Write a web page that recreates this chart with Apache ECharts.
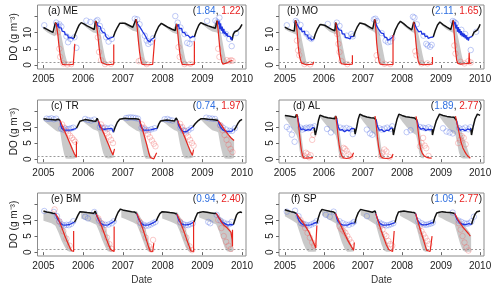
<!DOCTYPE html>
<html><head><meta charset="utf-8">
<script src="https://cdn.jsdelivr.net/npm/echarts@6/dist/echarts.min.js"></script>
<style>html,body{margin:0;padding:0;background:#fff}#c{width:500px;height:289px}</style>
</head><body><div id="c"></div>
<script>
// ---------- tick labels ----------
const yearTicks = [2005, 2006, 2007, 2008, 2009, 2010];
const doTicks = [0, 5, 10, 15];
const doLabels = [0, 5, 10];
const panelNames = ['(a) ME', '(b) MO', '(c) TR', '(d) AL', '(e) BM', '(f) SP'];
const rmseSurface = [1.84, 2.11, 0.74, 1.89, 0.94, 1.09];
const rmseBottom = [1.22, 1.65, 1.97, 2.77, 2.40, 2.77];

// ---------- (a) ME ----------
const meBlack = [
 [[2005.00,11.5],[2005.08,11.0],[2005.16,10.5],[2005.24,10.0],[2005.28,9.9],[2005.30,13.0],[2005.33,12.6]],
 [[2005.77,8.3],[2005.80,9.5],[2005.85,11.0],[2005.90,12.3],[2005.95,13.0],[2006.02,12.6],[2006.10,12.0],[2006.20,11.4],[2006.28,10.9],[2006.31,13.5],[2006.35,12.8]],
 [[2006.76,8.6],[2006.80,10.0],[2006.86,11.5],[2006.92,12.8],[2006.97,13.4],[2007.05,12.8],[2007.15,12.2],[2007.25,11.6],[2007.30,11.4],[2007.33,14.0],[2007.36,12.8]],
 [[2007.78,8.3],[2007.83,10.0],[2007.90,11.8],[2007.97,12.8],[2008.05,12.2],[2008.15,11.5],[2008.25,10.9],[2008.32,10.6],[2008.35,12.6],[2008.38,11.8]],
 [[2008.80,8.6],[2008.85,10.5],[2008.91,12.2],[2008.96,13.0],[2009.05,12.5],[2009.15,12.0],[2009.25,11.6],[2009.33,11.3],[2009.37,13.6],[2009.40,12.5]],
 [[2009.75,7.6],[2009.78,9.5],[2009.82,10.2],[2009.88,10.5],[2009.94,11.2],[2010.00,12.5]]
];
const meBlue = [
 [[2005.33,12.6],[2005.35,11.8],[2005.37,12.8],[2005.39,11.5],[2005.41,12.0],[2005.43,11.0],[2005.45,11.4],[2005.47,10.4],[2005.49,10.8],[2005.51,9.8],[2005.53,10.2],[2005.55,9.3],[2005.57,9.7],[2005.59,8.8],[2005.61,9.2],[2005.63,8.3],[2005.65,8.6],[2005.67,7.9],[2005.69,8.4],[2005.71,8.0],[2005.73,8.7],[2005.75,8.1],[2005.77,8.3]],
 [[2006.35,12.8],[2006.37,12.0],[2006.39,12.6],[2006.41,11.4],[2006.43,11.8],[2006.45,10.8],[2006.47,11.0],[2006.49,10.1],[2006.51,10.4],[2006.53,9.5],[2006.55,9.8],[2006.57,8.8],[2006.59,9.0],[2006.61,8.2],[2006.63,8.0],[2006.65,7.6],[2006.67,8.1],[2006.69,8.3],[2006.71,8.0],[2006.73,8.6],[2006.76,8.6]],
 [[2007.36,12.8],[2007.38,12.2],[2007.40,13.0],[2007.42,11.8],[2007.44,12.0],[2007.46,11.0],[2007.48,11.2],[2007.50,10.2],[2007.52,10.4],[2007.54,9.5],[2007.56,9.0],[2007.58,8.6],[2007.60,8.0],[2007.62,7.6],[2007.64,7.2],[2007.66,7.5],[2007.68,7.1],[2007.70,7.6],[2007.72,7.9],[2007.74,8.3],[2007.76,8.0],[2007.78,8.3]],
 [[2008.38,11.8],[2008.40,12.5],[2008.42,11.2],[2008.44,11.8],[2008.46,10.8],[2008.48,11.2],[2008.50,10.0],[2008.52,10.5],[2008.54,9.6],[2008.56,9.9],[2008.58,9.2],[2008.60,9.5],[2008.62,8.8],[2008.64,9.1],[2008.66,8.5],[2008.68,8.8],[2008.70,8.3],[2008.72,8.7],[2008.74,8.4],[2008.76,8.8],[2008.78,8.5],[2008.80,8.6]],
 [[2009.40,12.5],[2009.42,13.5],[2009.44,11.0],[2009.46,12.8],[2009.48,10.5],[2009.50,11.8],[2009.52,9.8],[2009.54,11.0],[2009.56,9.5],[2009.58,10.2],[2009.60,9.0],[2009.62,9.8],[2009.64,8.8],[2009.66,9.3],[2009.68,8.3],[2009.70,8.8],[2009.72,7.8],[2009.74,8.5],[2009.75,7.6]]
];
const meRed = [
 [[2005.30,13.0],[2005.33,12.0],[2005.36,9.5],[2005.39,6.0],[2005.42,3.0],[2005.45,1.0],[2005.48,0.2],[2005.55,0.1],[2005.65,0.1],[2005.75,0.2],[2005.79,0.3],[2005.79,6.5]],
 [[2006.31,13.5],[2006.34,12.0],[2006.37,9.0],[2006.40,5.5],[2006.43,2.5],[2006.46,0.8],[2006.49,0.2],[2006.60,0.1],[2006.70,0.2],[2006.77,0.3],[2006.77,6.3]],
 [[2007.33,14.0],[2007.36,11.5],[2007.39,7.5],[2007.42,4.0],[2007.45,1.5],[2007.48,0.3],[2007.55,0.1],[2007.65,0.1],[2007.75,0.2],[2007.80,0.3],[2007.80,7.8]],
 [[2008.35,12.6],[2008.38,10.0],[2008.41,6.0],[2008.44,3.0],[2008.47,1.0],[2008.50,0.2],[2008.60,0.1],[2008.70,0.1],[2008.80,0.3],[2008.80,7.3]],
 [[2009.37,13.6],[2009.40,10.5],[2009.43,6.5],[2009.46,3.0],[2009.49,1.0],[2009.52,0.3],[2009.58,0.5],[2009.64,0.8],[2009.70,1.2],[2009.76,1.4]]
];
const meBand = [
 [[2005.00,11.0,11.6],[2005.10,10.0,11.0],[2005.20,9.3,10.4],[2005.28,8.8,9.9],[2005.30,9.0,13.0],[2005.33,9.5,12.6],[2005.36,9.5,12.0],[2005.40,4.5,11.5],[2005.45,1.0,9.0],[2005.50,0.2,6.0],[2005.55,0.1,3.0],[2005.60,0.1,0.8]],
 [[2005.95,12.8,13.0],[2006.05,11.8,12.5],[2006.15,10.8,11.8],[2006.25,10.0,11.1],[2006.31,9.8,13.5],[2006.35,9.5,12.8],[2006.40,5.5,11.5],[2006.45,1.0,9.0],[2006.50,0.2,5.5],[2006.55,0.1,2.5],[2006.60,0.1,0.5]],
 [[2006.97,13.2,13.4],[2007.05,12.3,12.8],[2007.15,11.3,12.2],[2007.25,10.5,11.6],[2007.33,10.3,14.0],[2007.36,10.0,12.8],[2007.40,6.5,11.8],[2007.45,1.5,9.0],[2007.50,0.2,5.0],[2007.55,0.1,2.0],[2007.60,0.1,0.4]],
 [[2007.97,12.6,12.8],[2008.05,11.8,12.2],[2008.15,10.8,11.5],[2008.25,10.0,10.9],[2008.35,9.5,12.6],[2008.38,9.5,11.8],[2008.42,5.0,11.0],[2008.47,1.0,8.5],[2008.52,0.2,5.0],[2008.57,0.1,2.0],[2008.62,0.1,0.4]],
 [[2008.96,12.8,13.0],[2009.05,12.0,12.5],[2009.15,11.0,12.0],[2009.25,10.3,11.6],[2009.37,10.0,13.6],[2009.40,9.5,12.5],[2009.44,5.0,11.5],[2009.49,1.0,8.5],[2009.54,0.3,5.0],[2009.59,0.3,2.0],[2009.64,0.5,0.9]]
];
const meObsS = [[2005.02,12.2],[2005.32,13.0],[2005.36,12.2],[2005.40,12.5],[2005.45,11.8],[2005.58,8.8],[2005.62,7.0],[2005.68,8.0],[2005.78,8.5],[2005.83,5.3],[2006.08,13.6],[2006.18,13.2],[2006.33,13.4],[2006.36,13.8],[2006.42,12.0],[2006.48,10.5],[2006.58,8.5],[2006.64,7.2],[2006.72,8.0],[2007.30,14.2],[2007.36,14.0],[2007.42,12.5],[2007.55,9.0],[2007.60,7.5],[2007.64,6.5],[2007.70,7.0],[2007.76,8.2],[2008.32,15.0],[2008.38,13.0],[2008.45,11.5],[2008.55,9.5],[2008.62,6.8],[2008.68,6.5],[2008.75,8.0],[2009.12,13.5],[2009.33,13.6],[2009.38,13.2],[2009.43,14.5],[2009.50,10.5],[2009.60,9.5],[2009.68,8.0],[2009.74,5.8],[2009.85,9.8]];
const meObsB = [[2005.36,10.0],[2005.40,5.0],[2005.42,2.5],[2005.50,0.5],[2005.60,0.2],[2005.70,0.3],[2006.37,8.5],[2006.40,4.0],[2006.45,1.5],[2006.55,0.3],[2006.70,0.4],[2007.40,1.2],[2007.45,1.5],[2007.60,0.3],[2008.40,5.5],[2008.43,2.5],[2008.55,0.3],[2008.70,0.4],[2009.40,5.0],[2009.43,2.5],[2009.62,1.5],[2009.68,1.2],[2009.72,1.5],[2009.76,1.3]];

// ---------- (b) MO ----------
const moBlack = [
 [[2005.00,11.6],[2005.08,11.1],[2005.16,10.7],[2005.24,10.4],[2005.27,13.7],[2005.30,12.8]],
 [[2005.74,8.0],[2005.78,9.5],[2005.84,11.2],[2005.90,12.4],[2005.93,12.8],[2006.02,12.2],[2006.12,11.5],[2006.22,10.8],[2006.28,10.5],[2006.30,13.0],[2006.33,12.2]],
 [[2006.76,8.7],[2006.80,10.2],[2006.86,11.8],[2006.92,12.9],[2006.96,13.2],[2007.05,12.5],[2007.15,11.8],[2007.25,11.1],[2007.28,11.0],[2007.30,14.0],[2007.33,12.8]],
 [[2007.78,9.0],[2007.83,10.8],[2007.90,12.5],[2007.96,13.4],[2008.05,12.6],[2008.15,11.6],[2008.25,10.8],[2008.28,10.7],[2008.30,13.2],[2008.33,12.6]],
 [[2008.80,8.6],[2008.85,10.5],[2008.91,12.3],[2008.97,13.2],[2009.05,12.4],[2009.15,11.6],[2009.25,10.9],[2009.29,10.8],[2009.31,13.7],[2009.34,12.5]],
 [[2009.80,8.8],[2009.84,10.0],[2009.88,10.3],[2009.93,10.8],[2009.97,11.6],[2010.00,12.5]]
];
const moBlue = [
 [[2005.30,12.8],[2005.32,12.2],[2005.34,13.0],[2005.36,11.5],[2005.38,12.0],[2005.40,10.8],[2005.42,11.5],[2005.44,10.2],[2005.46,10.8],[2005.48,9.8],[2005.50,10.4],[2005.52,9.3],[2005.54,9.8],[2005.56,8.7],[2005.58,9.2],[2005.60,8.2],[2005.62,8.6],[2005.64,7.8],[2005.66,8.3],[2005.68,7.6],[2005.70,8.1],[2005.72,7.7],[2005.74,8.0]],
 [[2006.33,12.2],[2006.35,11.5],[2006.37,12.0],[2006.39,10.8],[2006.41,11.2],[2006.43,10.2],[2006.45,10.6],[2006.47,9.6],[2006.49,10.0],[2006.51,9.2],[2006.53,9.5],[2006.55,8.5],[2006.57,8.8],[2006.59,7.9],[2006.61,8.3],[2006.63,7.8],[2006.65,8.5],[2006.67,8.0],[2006.69,8.8],[2006.71,8.3],[2006.73,9.0],[2006.76,8.7]],
 [[2007.33,12.8],[2007.35,12.0],[2007.37,12.6],[2007.39,11.2],[2007.41,11.6],[2007.43,10.5],[2007.45,10.9],[2007.47,9.8],[2007.49,10.2],[2007.51,9.2],[2007.53,9.6],[2007.55,8.6],[2007.57,9.0],[2007.59,8.0],[2007.61,8.4],[2007.63,7.6],[2007.65,8.0],[2007.67,7.4],[2007.69,7.9],[2007.71,8.3],[2007.73,8.0],[2007.76,8.6],[2007.78,9.0]],
 [[2008.33,12.6],[2008.35,11.8],[2008.37,12.4],[2008.39,10.9],[2008.41,11.4],[2008.43,10.2],[2008.45,10.8],[2008.47,9.8],[2008.49,10.4],[2008.51,9.5],[2008.53,10.0],[2008.55,9.2],[2008.57,9.6],[2008.59,8.8],[2008.61,9.2],[2008.63,8.5],[2008.65,8.9],[2008.67,8.2],[2008.69,8.6],[2008.71,8.0],[2008.73,8.5],[2008.76,8.3],[2008.80,8.6]],
 [[2009.34,12.5],[2009.36,13.2],[2009.38,11.2],[2009.40,12.4],[2009.42,10.2],[2009.44,11.6],[2009.46,9.8],[2009.48,11.0],[2009.50,9.2],[2009.52,10.4],[2009.54,8.8],[2009.56,9.8],[2009.58,8.6],[2009.60,9.6],[2009.62,8.2],[2009.64,9.2],[2009.66,7.8],[2009.68,8.6],[2009.70,7.5],[2009.72,8.4],[2009.74,8.0],[2009.77,8.8],[2009.80,8.8]]
];
const moRed = [
 [[2005.27,13.7],[2005.30,12.0],[2005.32,9.5],[2005.34,6.0],[2005.37,3.0],[2005.40,1.5],[2005.43,0.6],[2005.47,0.2],[2005.55,0.1],[2005.65,0.2],[2005.72,0.3],[2005.74,1.0]],
 [[2006.30,13.0],[2006.32,12.0],[2006.34,9.0],[2006.36,6.0],[2006.39,3.0],[2006.42,1.2],[2006.45,0.4],[2006.55,0.2],[2006.65,0.2],[2006.73,0.3],[2006.73,3.0]],
 [[2007.30,14.0],[2007.33,11.0],[2007.35,7.0],[2007.38,3.5],[2007.41,1.2],[2007.44,0.3],[2007.55,0.1],[2007.65,0.1],[2007.77,0.2],[2007.77,9.2]],
 [[2008.30,13.2],[2008.33,10.5],[2008.36,6.5],[2008.39,3.0],[2008.42,1.0],[2008.45,0.3],[2008.55,0.1],[2008.65,0.2],[2008.78,0.3],[2008.78,2.5]],
 [[2009.31,13.7],[2009.34,9.0],[2009.37,4.5],[2009.40,1.5],[2009.43,0.5],[2009.50,0.3],[2009.60,0.4],[2009.71,0.5],[2009.72,3.8],[2009.73,0.6],[2009.78,0.5]]
];
const moBand = [
 [[2005.00,11.0,11.6],[2005.10,10.3,11.0],[2005.20,9.8,10.6],[2005.25,9.5,10.4],[2005.27,9.5,13.7],[2005.30,9.0,12.8],[2005.35,6.0,12.0],[2005.40,1.5,10.0],[2005.45,0.3,7.0],[2005.50,0.1,4.0],[2005.55,0.1,1.0],[2005.58,0.1,0.2]],
 [[2005.93,12.5,12.8],[2006.05,11.2,12.1],[2006.15,10.2,11.3],[2006.28,9.5,10.5],[2006.30,9.5,13.0],[2006.33,9.0,12.2],[2006.38,4.0,11.5],[2006.43,1.0,9.0],[2006.48,0.3,6.0],[2006.53,0.2,3.0],[2006.58,0.2,0.4]],
 [[2006.96,13.0,13.2],[2007.05,12.0,12.5],[2007.15,11.0,11.8],[2007.28,10.2,11.0],[2007.30,10.0,14.0],[2007.33,9.5,12.8],[2007.38,3.5,12.0],[2007.43,0.5,9.5],[2007.48,0.1,6.5],[2007.53,0.1,3.5],[2007.58,0.1,0.5]],
 [[2007.96,13.2,13.4],[2008.05,12.0,12.6],[2008.15,11.0,11.6],[2008.28,10.0,10.7],[2008.30,10.0,13.2],[2008.33,9.5,12.6],[2008.38,4.0,11.5],[2008.43,0.8,9.0],[2008.48,0.2,6.0],[2008.53,0.1,3.0],[2008.58,0.2,0.5]],
 [[2008.97,13.0,13.2],[2009.05,11.8,12.4],[2009.15,10.8,11.6],[2009.29,10.0,10.8],[2009.31,10.0,13.7],[2009.34,9.0,12.5],[2009.38,3.0,11.5],[2009.43,0.5,9.0],[2009.48,0.3,6.0],[2009.53,0.3,3.0],[2009.58,0.3,0.5]]
];
const moObsS = [[2005.05,12.2],[2005.28,13.5],[2005.31,13.0],[2005.40,12.3],[2005.55,9.6],[2005.62,8.5],[2005.68,8.0],[2006.10,12.6],[2006.33,13.0],[2006.40,12.0],[2006.58,9.0],[2006.70,9.5],[2006.74,8.8],[2007.28,14.0],[2007.32,14.2],[2007.36,13.5],[2007.48,9.8],[2007.58,7.5],[2007.64,7.0],[2007.70,7.2],[2007.75,8.2],[2008.28,14.8],[2008.32,14.5],[2008.38,12.5],[2008.55,9.0],[2008.62,6.5],[2008.66,6.0],[2008.72,5.6],[2008.76,6.2],[2009.30,13.5],[2009.34,13.2],[2009.38,12.8],[2009.52,10.8],[2009.62,9.5],[2009.76,4.6],[2009.90,10.2]];
const moObsB = [[2005.31,7.5],[2005.34,4.5],[2005.37,3.0],[2005.50,0.3],[2005.65,0.2],[2006.34,9.5],[2006.37,6.5],[2006.40,4.0],[2006.45,1.2],[2006.60,0.3],[2007.35,3.0],[2007.38,1.5],[2007.55,0.4],[2007.70,0.3],[2008.34,4.2],[2008.37,3.0],[2008.50,0.5],[2008.65,0.5],[2009.34,6.0],[2009.37,3.5],[2009.50,1.0],[2009.60,0.5],[2009.70,1.2],[2009.76,0.8]];

// ---------- (c) TR ----------
const trBlack = [
 [[2005.00,12.6],[2005.10,12.4],[2005.20,12.3],[2005.30,12.2],[2005.35,12.8],[2005.38,12.4],[2005.42,12.0]],
 [[2005.83,9.6],[2005.87,10.6],[2005.92,11.8],[2005.97,12.4],[2006.05,12.3],[2006.15,12.1],[2006.25,11.9],[2006.32,11.8],[2006.35,12.7],[2006.38,12.0]],
 [[2006.76,8.4],[2006.80,9.8],[2006.86,11.5],[2006.92,12.4],[2006.97,12.8],[2007.05,12.7],[2007.15,12.6],[2007.22,12.6],[2007.25,12.9],[2007.32,12.6],[2007.40,12.4],[2007.42,12.2]],
 [[2007.86,9.5],[2007.90,10.8],[2007.95,11.9],[2007.98,12.3],[2008.10,12.2],[2008.20,12.0],[2008.30,11.9],[2008.34,12.8],[2008.38,12.0]],
 [[2008.76,10.0],[2008.82,11.0],[2008.90,12.0],[2008.97,12.6],[2009.05,12.6],[2009.15,12.4],[2009.25,12.3],[2009.33,12.2],[2009.37,12.8],[2009.40,12.0]],
 [[2009.80,9.0],[2009.85,10.0],[2009.90,11.2],[2009.95,12.0],[2010.00,12.4]]
];
const trBlue = [
 [[2005.42,12.0],[2005.44,10.5],[2005.46,9.6],[2005.49,9.2],[2005.52,9.0],[2005.55,9.3],[2005.58,9.0],[2005.61,9.2],[2005.64,9.0],[2005.67,9.3],[2005.70,9.1],[2005.73,9.4],[2005.76,9.3],[2005.79,9.6],[2005.81,9.2],[2005.83,9.6]],
 [[2006.38,12.0],[2006.40,10.8],[2006.42,10.0],[2006.45,9.7],[2006.48,9.4],[2006.51,9.6],[2006.54,9.3],[2006.57,9.6],[2006.60,9.4],[2006.63,9.7],[2006.66,9.5],[2006.69,9.8],[2006.72,9.6],[2006.74,9.0],[2006.76,8.4]],
 [[2007.42,12.2],[2007.44,11.0],[2007.46,10.0],[2007.49,9.4],[2007.52,9.0],[2007.55,8.8],[2007.58,9.0],[2007.61,8.7],[2007.64,9.0],[2007.67,8.8],[2007.70,9.1],[2007.73,9.0],[2007.76,9.3],[2007.79,9.1],[2007.82,9.5],[2007.86,9.5]],
 [[2008.38,12.0],[2008.40,10.6],[2008.43,9.8],[2008.46,9.2],[2008.49,8.8],[2008.52,8.6],[2008.55,8.5],[2008.58,8.7],[2008.61,8.6],[2008.64,8.9],[2008.67,9.2],[2008.70,9.4],[2008.73,9.8],[2008.76,10.0]],
 [[2009.40,12.0],[2009.42,11.0],[2009.45,10.2],[2009.48,9.6],[2009.51,9.2],[2009.54,9.0],[2009.57,8.8],[2009.60,8.7],[2009.63,8.6],[2009.66,8.5],[2009.69,8.6],[2009.72,8.5],[2009.75,8.7],[2009.78,9.3],[2009.80,9.0]]
];
const trRed = [
 [[2005.42,12.0],[2005.47,10.5],[2005.53,8.8],[2005.60,6.8],[2005.67,4.8],[2005.73,3.0],[2005.78,1.6],[2005.83,0.6],[2005.83,5.5]],
 [[2006.38,12.0],[2006.44,10.2],[2006.50,8.5],[2006.57,6.5],[2006.64,4.5],[2006.70,2.6],[2006.75,1.3],[2006.79,0.7],[2006.79,3.2]],
 [[2007.42,12.2],[2007.48,9.8],[2007.54,7.2],[2007.60,4.5],[2007.65,2.0],[2007.69,0.5],[2007.73,0.1],[2007.78,0.1],[2007.81,0.3],[2007.85,2.0]],
 [[2008.38,12.0],[2008.44,10.2],[2008.50,8.5],[2008.57,6.4],[2008.64,4.2],[2008.70,2.4],[2008.75,1.2],[2008.78,0.6],[2008.78,3.0]],
 [[2009.40,12.0],[2009.47,10.8],[2009.54,9.5],[2009.61,8.3],[2009.68,7.2],[2009.74,6.4],[2009.80,5.8]]
];
const trBand = [
 [[2005.00,12.0,12.6],[2005.10,11.0,12.4],[2005.20,10.0,12.3],[2005.30,9.0,12.2],[2005.35,8.6,12.8],[2005.42,8.5,12.0],[2005.47,4.5,10.8],[2005.52,1.5,9.2],[2005.56,0.2,8.0],[2005.62,0.1,6.5],[2005.70,0.1,4.5],[2005.78,0.2,2.0],[2005.83,0.5,0.8]],
 [[2005.97,12.0,12.4],[2006.05,11.2,12.3],[2006.15,10.2,12.1],[2006.25,9.3,11.9],[2006.35,8.8,12.7],[2006.38,8.5,12.0],[2006.45,4.5,10.5],[2006.50,2.0,9.0],[2006.55,0.5,7.5],[2006.62,0.2,5.5],[2006.70,0.3,3.0],[2006.76,0.5,1.5],[2006.79,0.6,0.8]],
 [[2006.97,12.4,12.8],[2007.05,11.6,12.7],[2007.15,10.5,12.6],[2007.25,9.6,12.9],[2007.35,8.8,12.6],[2007.42,8.5,12.2],[2007.48,4.0,10.5],[2007.53,1.0,8.5],[2007.58,0.1,6.0],[2007.64,0.1,3.5],[2007.70,0.1,1.0],[2007.74,0.1,0.2]],
 [[2007.98,12.0,12.3],[2008.08,11.0,12.2],[2008.18,10.0,12.0],[2008.30,9.0,11.9],[2008.34,8.8,12.8],[2008.38,8.5,12.0],[2008.44,4.5,10.5],[2008.50,1.5,9.0],[2008.55,0.3,7.5],[2008.62,0.2,5.5],[2008.70,0.3,3.0],[2008.76,0.5,1.4],[2008.78,0.6,0.7]],
 [[2008.97,12.2,12.6],[2009.05,11.2,12.6],[2009.15,10.0,12.4],[2009.25,9.0,12.3],[2009.37,8.5,12.8],[2009.40,8.3,12.0],[2009.46,4.0,11.0],[2009.52,1.0,10.0],[2009.57,0.2,9.2],[2009.65,0.1,8.0],[2009.72,0.1,7.0],[2009.78,0.3,6.0],[2009.80,0.5,5.8]]
];
const trObsS = [[2005.08,12.6],[2005.14,12.5],[2005.20,12.7],[2005.26,12.4],[2005.32,12.6],[2005.45,9.5],[2005.50,9.2],[2005.55,9.5],[2005.60,9.3],[2005.65,9.4],[2005.70,9.6],[2005.75,9.8],[2006.05,12.5],[2006.12,12.2],[2006.20,12.0],[2006.28,12.3],[2006.42,10.0],[2006.48,9.6],[2006.55,9.8],[2006.62,9.5],[2006.70,9.8],[2007.08,12.8],[2007.14,12.9],[2007.20,13.0],[2007.26,12.9],[2007.32,12.8],[2007.38,12.6],[2007.47,9.8],[2007.52,9.3],[2007.58,9.2],[2007.65,9.0],[2007.72,9.3],[2007.80,9.6],[2008.05,12.4],[2008.12,12.5],[2008.18,12.2],[2008.25,12.0],[2008.45,9.8],[2008.52,8.8],[2008.58,8.7],[2008.65,9.0],[2008.72,9.6],[2009.10,12.9],[2009.18,12.7],[2009.25,12.6],[2009.32,12.5],[2009.45,10.5],[2009.52,9.8],[2009.60,9.2],[2009.68,8.8],[2009.75,8.8],[2009.82,9.6]];
const trObsB = [[2005.47,10.8],[2005.52,9.8],[2005.57,8.8],[2005.62,8.0],[2005.67,7.3],[2005.72,6.6],[2005.76,6.0],[2005.80,5.4],[2006.45,10.8],[2006.50,9.8],[2006.55,8.8],[2006.60,8.0],[2006.65,7.0],[2006.70,6.0],[2006.75,5.0],[2007.48,10.8],[2007.53,9.8],[2007.58,8.8],[2007.63,7.8],[2007.68,6.8],[2007.73,5.8],[2007.78,4.8],[2007.82,4.0],[2008.44,11.0],[2008.49,10.0],[2008.54,9.0],[2008.59,8.0],[2008.64,7.0],[2008.69,6.0],[2008.74,5.0],[2008.78,4.2],[2009.46,10.5],[2009.51,9.0],[2009.56,7.5],[2009.61,6.0],[2009.66,4.5],[2009.71,3.2],[2009.76,2.2]];

// ---------- (d) AL ----------
const alBlack = [
 [[2005.00,13.6],[2005.10,13.4],[2005.20,13.2],[2005.27,13.0],[2005.30,14.0],[2005.33,13.0]],
 [[2005.75,9.8],[2005.78,7.5],[2005.82,9.5],[2005.86,12.0],[2005.90,13.7],[2006.00,13.2],[2006.10,12.9],[2006.20,12.7],[2006.28,12.6],[2006.30,13.4],[2006.33,12.5]],
 [[2006.78,9.5],[2006.80,7.8],[2006.84,10.0],[2006.88,12.5],[2006.92,14.0],[2007.00,13.5],[2007.10,13.1],[2007.20,12.9],[2007.28,12.8],[2007.31,13.4],[2007.34,12.2]],
 [[2007.76,9.6],[2007.78,7.5],[2007.82,9.8],[2007.87,12.3],[2007.92,14.0],[2008.00,13.6],[2008.10,13.2],[2008.20,13.0],[2008.32,12.8],[2008.36,13.3],[2008.39,12.0]],
 [[2008.77,9.4],[2008.78,7.5],[2008.82,9.5],[2008.88,12.0],[2008.96,14.0],[2009.05,13.6],[2009.15,13.3],[2009.25,13.1],[2009.33,13.0],[2009.37,13.4],[2009.40,12.0]],
 [[2009.76,9.6],[2009.78,7.5],[2009.82,10.0],[2009.87,12.5],[2009.93,14.0],[2010.00,13.6]]
];
const alBlue = [
 [[2005.33,13.0],[2005.35,11.5],[2005.37,10.5],[2005.39,10.0],[2005.41,9.2],[2005.43,9.6],[2005.45,9.0],[2005.47,9.4],[2005.49,8.8],[2005.51,9.3],[2005.53,8.9],[2005.55,9.4],[2005.57,8.8],[2005.59,9.2],[2005.61,8.9],[2005.63,9.5],[2005.65,9.0],[2005.67,9.6],[2005.69,9.2],[2005.71,9.8],[2005.73,9.4],[2005.75,9.8]],
 [[2006.33,12.5],[2006.35,11.0],[2006.37,10.0],[2006.39,9.5],[2006.41,9.0],[2006.43,9.4],[2006.45,8.8],[2006.47,9.2],[2006.49,8.6],[2006.51,9.0],[2006.53,8.5],[2006.55,9.0],[2006.57,8.6],[2006.59,9.1],[2006.61,8.7],[2006.63,9.2],[2006.65,8.8],[2006.67,9.4],[2006.69,9.0],[2006.71,9.6],[2006.73,9.2],[2006.75,9.8],[2006.78,9.5]],
 [[2007.34,12.2],[2007.36,10.8],[2007.38,10.0],[2007.40,9.4],[2007.42,9.0],[2007.44,9.4],[2007.46,8.7],[2007.48,9.2],[2007.50,8.6],[2007.52,9.0],[2007.54,8.5],[2007.56,9.0],[2007.58,8.6],[2007.60,9.0],[2007.62,8.7],[2007.64,9.3],[2007.66,8.9],[2007.68,9.5],[2007.70,9.1],[2007.72,9.7],[2007.74,9.3],[2007.76,9.6]],
 [[2008.39,12.0],[2008.41,10.8],[2008.43,10.0],[2008.45,9.6],[2008.47,9.9],[2008.49,9.3],[2008.51,9.7],[2008.53,9.1],[2008.55,9.6],[2008.57,9.0],[2008.59,9.5],[2008.61,8.9],[2008.63,9.4],[2008.65,8.8],[2008.67,9.3],[2008.69,9.0],[2008.71,9.5],[2008.73,9.1],[2008.75,9.6],[2008.77,9.4]],
 [[2009.40,12.0],[2009.42,10.6],[2009.44,9.8],[2009.46,9.3],[2009.48,9.6],[2009.50,9.0],[2009.52,9.4],[2009.54,8.8],[2009.56,9.3],[2009.58,8.7],[2009.60,9.2],[2009.62,8.8],[2009.64,9.3],[2009.66,8.9],[2009.68,9.4],[2009.70,9.0],[2009.72,9.5],[2009.74,9.1],[2009.76,9.6]]
];
const alRed = [
 [[2005.30,14.0],[2005.33,12.5],[2005.36,9.5],[2005.39,6.0],[2005.42,3.0],[2005.45,1.2],[2005.48,0.4],[2005.52,0.8],[2005.56,0.3],[2005.60,0.9],[2005.64,0.4],[2005.68,1.0],[2005.72,0.5]],
 [[2006.30,13.4],[2006.33,11.0],[2006.36,7.5],[2006.39,4.5],[2006.42,2.5],[2006.45,1.2],[2006.50,0.4],[2006.58,0.2],[2006.66,0.4],[2006.72,0.8],[2006.76,2.0]],
 [[2007.31,13.4],[2007.34,10.5],[2007.37,7.0],[2007.40,4.0],[2007.43,2.0],[2007.46,0.8],[2007.52,0.3],[2007.60,0.2],[2007.68,0.3],[2007.74,0.6],[2007.77,1.6]],
 [[2008.36,13.3],[2008.39,11.0],[2008.42,8.0],[2008.45,5.0],[2008.48,3.0],[2008.52,1.8],[2008.57,1.0],[2008.63,0.6],[2008.70,0.4],[2008.76,0.3]],
 [[2009.37,13.4],[2009.40,11.5],[2009.44,9.5],[2009.48,7.0],[2009.52,5.0],[2009.56,3.5],[2009.60,2.5],[2009.65,1.5],[2009.70,0.8],[2009.75,0.3]]
];
const alBand = [
 [[2005.00,12.8,13.6],[2005.08,11.5,13.4],[2005.16,10.0,13.3],[2005.24,8.5,13.1],[2005.30,7.5,14.0],[2005.34,6.0,12.8],[2005.38,2.5,11.0],[2005.42,0.5,8.0],[2005.46,0.2,4.0],[2005.50,0.2,1.0]],
 [[2005.90,13.0,13.7],[2006.00,11.5,13.2],[2006.10,10.0,12.9],[2006.20,8.8,12.7],[2006.30,7.5,13.4],[2006.34,5.5,12.3],[2006.38,2.0,10.5],[2006.42,0.4,7.0],[2006.46,0.2,3.5],[2006.50,0.2,0.8]],
 [[2006.92,13.2,14.0],[2007.02,11.5,13.5],[2007.12,10.0,13.1],[2007.22,8.6,12.9],[2007.31,7.5,13.4],[2007.35,5.5,12.2],[2007.39,2.0,10.5],[2007.43,0.4,7.0],[2007.47,0.2,3.5],[2007.51,0.2,0.8]],
 [[2007.92,13.2,14.0],[2008.02,11.5,13.6],[2008.12,10.0,13.2],[2008.24,8.5,13.0],[2008.36,7.5,13.3],[2008.40,5.5,12.0],[2008.44,2.0,10.0],[2008.48,0.5,7.0],[2008.52,0.3,3.5],[2008.56,0.3,0.9]],
 [[2008.96,13.2,14.0],[2009.06,11.5,13.6],[2009.16,10.0,13.3],[2009.26,8.5,13.1],[2009.37,7.5,13.4],[2009.41,5.0,12.0],[2009.46,2.0,10.5],[2009.51,0.5,9.0],[2009.56,0.2,7.5],[2009.62,0.2,5.5],[2009.68,0.2,3.0],[2009.74,0.2,0.8]]
];
const alObsS = [[2005.05,10.0],[2005.12,9.3],[2005.18,7.6],[2005.25,5.4],[2005.40,9.8],[2005.45,9.2],[2005.50,9.5],[2005.55,9.8],[2005.60,9.6],[2005.65,10.0],[2005.70,9.8],[2005.76,10.2],[2006.08,9.4],[2006.18,8.3],[2006.42,9.8],[2006.50,9.5],[2006.58,9.7],[2006.66,9.4],[2006.74,7.8],[2007.10,9.2],[2007.18,8.0],[2007.24,7.6],[2007.42,9.6],[2007.48,9.2],[2007.55,9.5],[2007.62,9.8],[2007.70,9.4],[2007.75,10.2],[2008.12,8.4],[2008.22,9.0],[2008.46,10.0],[2008.54,9.8],[2008.60,9.6],[2008.68,9.9],[2008.74,9.5],[2009.05,9.6],[2009.14,8.6],[2009.22,8.3],[2009.30,8.0],[2009.46,9.7],[2009.55,9.4],[2009.62,9.8],[2009.70,9.3],[2009.75,9.9]];
const alObsB = [[2005.50,1.0],[2005.54,2.0],[2005.58,1.6],[2005.62,0.6],[2005.66,1.2],[2005.70,6.0],[2005.73,7.6],[2006.46,1.0],[2006.50,3.5],[2006.54,3.2],[2006.58,2.6],[2006.63,1.5],[2006.68,0.8],[2007.46,1.0],[2007.50,2.0],[2007.55,3.0],[2007.60,2.4],[2007.68,0.6],[2008.46,4.0],[2008.50,5.0],[2008.54,6.6],[2008.58,4.2],[2008.62,3.4],[2008.68,1.0],[2009.44,5.0],[2009.49,6.0],[2009.53,7.2],[2009.58,6.6],[2009.63,4.6]];

// ---------- (e) BM ----------
const bmBlack = [
 [[2005.00,12.8],[2005.08,12.5],[2005.16,12.3],[2005.24,12.1],[2005.27,12.6],[2005.30,12.0]],
 [[2005.78,9.3],[2005.82,10.2],[2005.87,11.5],[2005.92,12.6],[2006.00,12.5],[2006.10,12.3],[2006.20,12.2],[2006.27,12.1],[2006.30,12.8],[2006.33,11.8]],
 [[2006.79,9.6],[2006.83,11.0],[2006.88,12.4],[2006.94,13.4],[2007.02,13.0],[2007.12,12.8],[2007.22,12.6],[2007.29,12.5],[2007.32,12.8],[2007.35,12.0]],
 [[2007.84,9.7],[2007.88,10.8],[2007.93,12.0],[2007.99,12.6],[2008.08,12.5],[2008.18,12.3],[2008.28,12.2],[2008.33,12.6],[2008.36,11.8]],
 [[2008.79,9.4],[2008.83,10.8],[2008.88,12.2],[2008.92,12.8],[2009.02,12.6],[2009.12,12.4],[2009.22,12.2],[2009.32,12.0],[2009.35,12.1]],
 [[2009.78,8.5],[2009.82,10.0],[2009.86,11.5],[2009.90,12.2],[2009.96,12.5],[2010.00,12.3]]
];
const bmBlue = [
 [[2005.30,12.0],[2005.33,11.0],[2005.36,10.2],[2005.39,9.6],[2005.42,9.1],[2005.45,8.7],[2005.48,8.5],[2005.51,8.6],[2005.54,8.4],[2005.57,8.6],[2005.60,8.5],[2005.63,8.7],[2005.66,8.6],[2005.69,8.9],[2005.72,9.0],[2005.75,9.3],[2005.78,9.3]],
 [[2006.33,11.8],[2006.36,10.8],[2006.39,9.9],[2006.42,9.3],[2006.45,8.9],[2006.48,8.7],[2006.51,8.5],[2006.54,8.6],[2006.57,8.4],[2006.60,8.6],[2006.63,8.5],[2006.66,8.8],[2006.69,8.9],[2006.72,9.1],[2006.75,9.4],[2006.79,9.6]],
 [[2007.35,12.0],[2007.38,10.8],[2007.41,9.9],[2007.44,9.3],[2007.47,8.9],[2007.50,8.6],[2007.53,8.4],[2007.56,8.3],[2007.59,8.4],[2007.62,8.3],[2007.65,8.5],[2007.68,8.6],[2007.71,8.8],[2007.74,9.0],[2007.77,9.2],[2007.80,9.4],[2007.84,9.7]],
 [[2008.36,11.8],[2008.39,10.5],[2008.42,9.6],[2008.45,9.1],[2008.48,8.8],[2008.51,8.6],[2008.54,8.5],[2008.57,8.4],[2008.60,8.5],[2008.63,8.4],[2008.66,8.6],[2008.69,8.7],[2008.72,8.9],[2008.75,9.1],[2008.79,9.4]],
 [[2009.35,12.1],[2009.38,11.5],[2009.41,10.8],[2009.44,10.2],[2009.47,9.7],[2009.50,9.4],[2009.53,9.1],[2009.56,8.9],[2009.59,8.7],[2009.62,8.5],[2009.65,8.4],[2009.68,8.5],[2009.71,8.6],[2009.74,8.8],[2009.78,8.5]]
];
const bmRed = [
 [[2005.30,12.0],[2005.36,10.8],[2005.42,9.0],[2005.48,7.0],[2005.54,5.0],[2005.60,3.2],[2005.66,1.5],[2005.70,0.5],[2005.73,0.2],[2005.76,0.2],[2005.76,6.6]],
 [[2006.33,11.8],[2006.40,10.0],[2006.46,8.2],[2006.52,6.2],[2006.58,4.2],[2006.64,2.3],[2006.69,0.8],[2006.72,0.2],[2006.78,0.2],[2006.78,8.0]],
 [[2007.35,12.0],[2007.42,10.0],[2007.48,8.0],[2007.54,5.8],[2007.60,3.5],[2007.65,1.5],[2007.69,0.3],[2007.75,0.2],[2007.78,0.3],[2007.78,2.8]],
 [[2008.36,11.8],[2008.43,10.0],[2008.49,8.0],[2008.55,6.0],[2008.61,3.8],[2008.67,1.8],[2008.71,0.4],[2008.75,0.2],[2008.78,0.2],[2008.78,9.6]],
 [[2009.35,12.1],[2009.42,10.6],[2009.49,9.2],[2009.56,8.2],[2009.63,7.5],[2009.68,7.0],[2009.72,6.2],[2009.75,4.0],[2009.76,1.8],[2009.76,7.0]]
];
const bmBand = [
 [[2005.00,9.8,12.8],[2005.10,9.4,12.5],[2005.20,9.0,12.2],[2005.30,8.2,12.0],[2005.38,6.0,11.0],[2005.46,3.5,9.5],[2005.54,1.5,7.0],[2005.60,0.4,5.0],[2005.66,0.1,2.5],[2005.72,0.1,0.6]],
 [[2005.95,10.5,12.5],[2006.05,10.0,12.4],[2006.15,9.5,12.3],[2006.25,9.0,12.1],[2006.33,8.5,12.8],[2006.40,6.5,11.2],[2006.48,3.8,9.8],[2006.56,1.5,7.5],[2006.62,0.3,5.2],[2006.68,0.1,2.5],[2006.73,0.1,0.5]],
 [[2006.96,10.8,13.3],[2007.06,10.3,13.0],[2007.16,9.8,12.7],[2007.26,9.2,12.5],[2007.35,8.6,12.8],[2007.42,6.5,11.3],[2007.50,3.8,9.5],[2007.57,1.5,7.0],[2007.63,0.3,4.5],[2007.68,0.1,2.0],[2007.72,0.1,0.4]],
 [[2007.99,10.5,12.6],[2008.09,10.0,12.5],[2008.19,9.5,12.3],[2008.29,9.0,12.2],[2008.36,8.5,12.6],[2008.43,6.5,11.2],[2008.51,3.8,9.5],[2008.58,1.5,7.0],[2008.65,0.3,4.5],[2008.70,0.1,2.0],[2008.74,0.1,0.4]],
 [[2008.92,10.8,12.8],[2009.02,10.3,12.6],[2009.12,9.8,12.4],[2009.22,9.3,12.2],[2009.35,8.6,12.1],[2009.42,6.5,11.5],[2009.49,4.0,10.5],[2009.56,1.5,9.5],[2009.62,0.3,8.5],[2009.68,0.1,7.5],[2009.74,0.1,6.0],[2009.77,0.2,4.0]]
];
const bmObsS = [[2005.02,12.8],[2005.26,12.5],[2005.34,11.2],[2005.40,9.6],[2005.46,8.6],[2005.52,8.3],[2005.58,8.5],[2005.64,8.4],[2005.70,8.8],[2005.75,9.6],[2006.05,11.0],[2006.12,10.5],[2006.28,12.5],[2006.40,9.8],[2006.48,8.8],[2006.56,8.5],[2006.64,8.6],[2006.72,9.0],[2006.77,9.6],[2007.45,9.0],[2007.52,8.5],[2007.58,8.2],[2007.64,8.3],[2007.70,8.6],[2007.76,9.0],[2007.82,9.4],[2008.45,9.2],[2008.52,8.7],[2008.58,8.4],[2008.64,8.4],[2008.70,8.7],[2008.76,9.0],[2009.15,9.4],[2009.20,9.0],[2009.36,11.6],[2009.46,9.8],[2009.54,9.2],[2009.62,8.8],[2009.68,8.7],[2009.74,9.4]];
const bmObsB = [[2005.28,13.3],[2005.40,9.5],[2005.50,6.5],[2005.58,4.2],[2005.66,2.0],[2006.38,10.5],[2006.46,9.0],[2006.52,7.0],[2006.60,4.5],[2006.66,2.5],[2006.72,1.0],[2007.42,9.5],[2007.50,7.0],[2007.58,4.5],[2007.66,1.8],[2007.72,0.8],[2007.76,3.8],[2008.44,9.5],[2008.52,7.0],[2008.60,4.5],[2008.68,1.8],[2008.74,0.6],[2009.40,10.0],[2009.48,7.5],[2009.54,5.0],[2009.60,3.2],[2009.66,2.0],[2009.72,1.0]];

// ---------- (f) SP ----------
const spBlack = [
 [[2005.00,13.2],[2005.08,12.9],[2005.16,12.6],[2005.24,12.4],[2005.27,12.8],[2005.30,12.0]],
 [[2005.82,9.0],[2005.86,10.8],[2005.90,12.3],[2005.95,13.3],[2006.05,13.0],[2006.15,12.7],[2006.25,12.5],[2006.28,12.8],[2006.30,12.0]],
 [[2006.79,9.0],[2006.83,10.8],[2006.88,12.3],[2006.94,13.3],[2007.04,13.0],[2007.14,12.7],[2007.24,12.4],[2007.29,12.3],[2007.31,12.8],[2007.33,12.0]],
 [[2007.82,9.2],[2007.86,11.0],[2007.91,12.5],[2007.95,13.0],[2008.05,12.8],[2008.15,12.6],[2008.25,12.4],[2008.31,12.3],[2008.33,12.6],[2008.35,12.0]],
 [[2008.80,9.0],[2008.84,10.8],[2008.89,12.2],[2008.93,12.8],[2009.03,12.6],[2009.13,12.4],[2009.23,12.3],[2009.30,12.2],[2009.33,12.7],[2009.35,12.0]],
 [[2009.78,8.6],[2009.82,10.2],[2009.87,11.8],[2009.92,12.6],[2009.97,13.0],[2010.00,12.8]]
];
const spBlue = [
 [[2005.30,12.0],[2005.33,10.8],[2005.36,9.8],[2005.39,9.2],[2005.42,8.9],[2005.45,8.7],[2005.48,8.5],[2005.51,8.6],[2005.54,8.4],[2005.57,8.5],[2005.60,8.4],[2005.63,8.6],[2005.66,8.5],[2005.69,8.7],[2005.72,8.8],[2005.75,9.0],[2005.78,9.2],[2005.82,9.0]],
 [[2006.30,12.0],[2006.33,10.5],[2006.36,9.6],[2006.39,9.1],[2006.42,8.8],[2006.45,8.6],[2006.48,8.5],[2006.51,8.6],[2006.54,8.4],[2006.57,8.5],[2006.60,8.4],[2006.63,8.6],[2006.66,8.7],[2006.69,8.9],[2006.72,9.0],[2006.75,9.2],[2006.79,9.0]],
 [[2007.33,12.0],[2007.36,10.8],[2007.39,9.8],[2007.42,9.2],[2007.45,8.8],[2007.48,8.5],[2007.51,8.4],[2007.54,8.3],[2007.57,8.4],[2007.60,8.3],[2007.63,8.5],[2007.66,8.4],[2007.69,8.6],[2007.72,8.7],[2007.75,8.9],[2007.78,9.1],[2007.82,9.2]],
 [[2008.35,12.0],[2008.38,10.6],[2008.41,9.7],[2008.44,9.1],[2008.47,8.8],[2008.50,8.6],[2008.53,8.5],[2008.56,8.4],[2008.59,8.5],[2008.62,8.4],[2008.65,8.6],[2008.68,8.7],[2008.71,8.9],[2008.74,9.0],[2008.77,9.2],[2008.80,9.0]],
 [[2009.35,12.0],[2009.38,11.0],[2009.41,10.2],[2009.44,9.6],[2009.47,9.2],[2009.50,9.0],[2009.53,8.8],[2009.56,8.7],[2009.59,8.6],[2009.62,8.7],[2009.65,8.6],[2009.68,8.8],[2009.71,8.9],[2009.74,9.1],[2009.78,8.6]]
];
const spRed = [
 [[2005.30,12.0],[2005.38,10.5],[2005.46,9.3],[2005.54,7.8],[2005.62,6.2],[2005.68,4.5],[2005.74,2.8],[2005.79,1.3],[2005.82,0.7],[2005.82,8.3]],
 [[2006.30,12.0],[2006.38,9.8],[2006.46,7.6],[2006.54,5.5],[2006.62,3.5],[2006.70,1.8],[2006.76,0.6],[2006.78,0.4],[2006.78,3.0]],
 [[2007.33,12.0],[2007.40,9.2],[2007.47,6.6],[2007.54,4.2],[2007.60,2.2],[2007.66,0.8],[2007.70,0.2],[2007.76,0.2],[2007.80,0.3],[2007.80,6.6]],
 [[2008.35,12.0],[2008.42,9.0],[2008.48,6.5],[2008.54,4.2],[2008.59,2.2],[2008.63,0.6],[2008.66,0.2],[2008.72,0.2],[2008.77,0.3],[2008.77,5.0]],
 [[2009.35,12.0],[2009.42,10.4],[2009.49,9.0],[2009.56,7.8],[2009.63,6.8],[2009.70,5.8],[2009.75,5.0]]
];
const spBand = [
 [[2005.00,11.2,13.2],[2005.10,10.5,12.9],[2005.20,9.8,12.6],[2005.30,9.0,12.0],[2005.38,6.0,11.0],[2005.46,3.0,10.0],[2005.54,0.8,8.5],[2005.60,0.1,7.0],[2005.68,0.1,5.0],[2005.75,0.1,3.0],[2005.80,0.2,1.5]],
 [[2005.95,11.5,13.3],[2006.05,10.8,13.0],[2006.15,10.0,12.7],[2006.30,9.0,12.0],[2006.38,6.0,10.5],[2006.46,3.0,8.6],[2006.54,0.8,6.8],[2006.60,0.1,5.0],[2006.68,0.1,3.0],[2006.74,0.2,1.4],[2006.77,0.3,0.6]],
 [[2006.94,11.5,13.3],[2007.04,10.8,13.0],[2007.14,10.0,12.7],[2007.24,9.2,12.4],[2007.33,8.5,12.0],[2007.40,5.5,10.2],[2007.47,2.5,7.8],[2007.54,0.5,5.5],[2007.60,0.1,3.5],[2007.66,0.1,1.5],[2007.70,0.1,0.4]],
 [[2007.95,11.3,13.0],[2008.05,10.6,12.8],[2008.15,10.0,12.6],[2008.25,9.3,12.4],[2008.35,8.5,12.0],[2008.42,5.5,10.0],[2008.48,2.5,7.8],[2008.54,0.5,5.5],[2008.60,0.1,3.2],[2008.64,0.1,1.2],[2008.67,0.1,0.3]],
 [[2008.93,11.0,12.8],[2009.03,10.5,12.6],[2009.13,9.8,12.4],[2009.23,9.2,12.3],[2009.35,8.5,12.0],[2009.42,5.5,11.0],[2009.49,2.5,10.0],[2009.56,0.5,9.0],[2009.62,0.1,8.0],[2009.68,0.1,7.0],[2009.74,0.1,6.0],[2009.77,0.2,5.0]]
];
const spObsS = [[2005.05,12.6],[2005.26,12.9],[2005.35,11.2],[2005.42,9.0],[2005.48,8.8],[2005.55,8.5],[2005.62,8.3],[2005.68,8.6],[2005.75,9.0],[2005.81,9.6],[2006.05,11.6],[2006.15,11.0],[2006.25,12.6],[2006.40,9.6],[2006.48,9.0],[2006.56,8.6],[2006.64,8.5],[2006.72,8.9],[2006.77,9.4],[2007.10,11.2],[2007.42,9.2],[2007.48,8.8],[2007.54,8.5],[2007.60,8.3],[2007.66,8.4],[2007.72,8.7],[2007.78,9.0],[2008.42,9.6],[2008.50,9.0],[2008.56,8.6],[2008.62,8.5],[2008.68,8.7],[2008.74,8.9],[2008.79,9.2],[2009.30,12.3],[2009.45,9.8],[2009.52,9.4],[2009.60,9.0],[2009.66,8.8],[2009.72,9.0],[2009.78,9.6],[2009.84,11.0]];
const spObsB = [[2005.40,10.0],[2005.46,8.8],[2005.52,7.5],[2005.58,6.0],[2005.64,4.5],[2005.70,3.0],[2005.75,2.0],[2006.40,8.0],[2006.45,7.2],[2006.50,6.6],[2006.55,6.0],[2006.60,5.0],[2006.65,4.0],[2006.70,3.0],[2007.45,8.0],[2007.50,7.0],[2007.55,5.5],[2007.60,5.0],[2007.65,3.5],[2007.70,2.5],[2007.75,2.0],[2008.45,8.0],[2008.50,6.5],[2008.55,5.5],[2008.60,4.5],[2008.65,3.5],[2008.70,2.5],[2009.45,9.0],[2009.50,7.0],[2009.55,5.0],[2009.60,3.0],[2009.65,1.5],[2009.70,0.5]];

// ---------- build ----------
const panelData = [
 {black: meBlack, blue: meBlue, red: meRed, band: meBand, obsS: meObsS, obsB: meObsB},
 {black: moBlack, blue: moBlue, red: moRed, band: moBand, obsS: moObsS, obsB: moObsB},
 {black: trBlack, blue: trBlue, red: trRed, band: trBand, obsS: trObsS, obsB: trObsB},
 {black: alBlack, blue: alBlue, red: alRed, band: alBand, obsS: alObsS, obsB: alObsB},
 {black: bmBlack, blue: bmBlue, red: bmRed, band: bmBand, obsS: bmObsS, obsB: bmObsB},
 {black: spBlack, blue: spBlue, red: spRed, band: spBand, obsS: spObsS, obsB: spObsB}
];

const colLeft = [37.5, 279];
const colWidth = [208.5, 205];
const rowTop = [5, 100, 193];
const rowHeight = [64, 63, 63];
const nameLeft = [48, 287, 51, 293, 51, 291];
const FONT = 'Liberation Sans, Arial, sans-serif';

function flatten(segs) {
  const out = [];
  segs.forEach((s, k) => { if (k) out.push([s[0][0], '-']); s.forEach(p => out.push(p)); });
  return out;
}

const grids = [], xAxes = [], yAxes = [], series = [], graphics = [];
panelData.forEach((pd, i) => {
  const col = i % 2, row = Math.floor(i / 2);
  grids.push({left: colLeft[col], top: rowTop[row], width: colWidth[col], height: rowHeight[row],
    show: true, borderColor: '#8c8c8c', borderWidth: 1, backgroundColor: 'transparent'});
  xAxes.push({type: 'value', gridIndex: i, min: 2004.85, max: 2010.1,
    axisLine: {show: false}, splitLine: {show: false},
    axisTick: {show: true, customValues: yearTicks, length: 3, lineStyle: {color: '#666'}},
    axisLabel: {customValues: yearTicks, fontSize: 10, color: '#222', margin: 5, fontFamily: FONT,
      formatter: v => String(Math.round(v))},
    name: row === 2 ? 'Date' : '', nameLocation: 'middle', nameGap: 19,
    nameTextStyle: {fontSize: 10, color: '#333', fontFamily: FONT}});
  yAxes.push({type: 'value', gridIndex: i, min: -1.2, max: 18.4,
    axisLine: {show: false}, splitLine: {show: false},
    axisTick: {show: true, customValues: doTicks, length: 3, lineStyle: {color: '#666'}},
    axisLabel: {customValues: doLabels, rotate: 90, fontSize: 10, color: '#222', margin: 4, fontFamily: FONT,
      formatter: v => String(Math.round(v))},
    name: col === 0 ? 'DO (g m\u207B\u00B3)' : '', nameLocation: 'middle', nameGap: 18, nameRotate: 90,
    nameTextStyle: {fontSize: 10, color: '#222', fontFamily: FONT}});

  const band = pd.band;
  series.push({type: 'custom', xAxisIndex: i, yAxisIndex: i, silent: true, z: 1, clip: true,
    data: band.map((s, k) => [s[0][0], s[0][1], k]),
    renderItem: (params, api) => {
      const seg = band[api.value(2)];
      const up = seg.map(p => api.coord([p[0], p[2]]));
      const lo = seg.slice().reverse().map(p => api.coord([p[0], p[1]]));
      return {type: 'polygon', shape: {points: up.concat(lo)}, style: {fill: '#c9c9c9', stroke: null}};
    }});
  series.push({type: 'scatter', xAxisIndex: i, yAxisIndex: i, silent: true, z: 2, data: pd.obsS,
    symbol: 'circle', symbolSize: 5.5,
    itemStyle: {color: 'rgba(0,0,0,0)', borderColor: 'rgba(80,110,230,0.5)', borderWidth: 0.9}});
  series.push({type: 'scatter', xAxisIndex: i, yAxisIndex: i, silent: true, z: 2, data: pd.obsB,
    symbol: 'circle', symbolSize: 5.5,
    itemStyle: {color: 'rgba(0,0,0,0)', borderColor: 'rgba(240,90,90,0.45)', borderWidth: 0.9}});
  series.push({type: 'line', xAxisIndex: i, yAxisIndex: i, silent: true, z: 3, data: flatten(pd.black),
    symbol: 'none', lineStyle: {color: '#111', width: 1.5}, connectNulls: false,
    markLine: {silent: true, symbol: 'none', label: {show: false},
      lineStyle: {color: '#999', type: [2, 2], width: 1}, data: [{yAxis: 1}]}});
  series.push({type: 'line', xAxisIndex: i, yAxisIndex: i, silent: true, z: 4, data: flatten(pd.blue),
    symbol: 'none', lineStyle: {color: '#1f35e0', width: 1.3}, connectNulls: false});
  series.push({type: 'line', xAxisIndex: i, yAxisIndex: i, silent: true, z: 5, data: flatten(pd.red),
    symbol: 'none', lineStyle: {color: '#e8261e', width: 1.2}, connectNulls: false});

  graphics.push({type: 'text', left: nameLeft[i], top: rowTop[row] + 1, z: 10,
    style: {text: panelNames[i], font: '10px ' + FONT, fill: '#111'}});
  graphics.push({type: 'text', right: 500 - (colLeft[col] + colWidth[col]) + 2, top: rowTop[row] + 1, z: 10,
    style: {text: '({b|' + rmseSurface[i].toFixed(2) + '}, {r|' + rmseBottom[i].toFixed(2) + '})',
      font: '10px ' + FONT, fill: '#111',
      rich: {b: {fill: '#2f6fe0', font: '10px ' + FONT}, r: {fill: '#e82020', font: '10px ' + FONT}}}});
});

const chart = echarts.init(document.getElementById('c'), null, {renderer: 'canvas'});
chart.setOption({
  animation: false, backgroundColor: '#fff',
  grid: grids, xAxis: xAxes, yAxis: yAxes, series: series, graphic: graphics
});
</script></body></html>
